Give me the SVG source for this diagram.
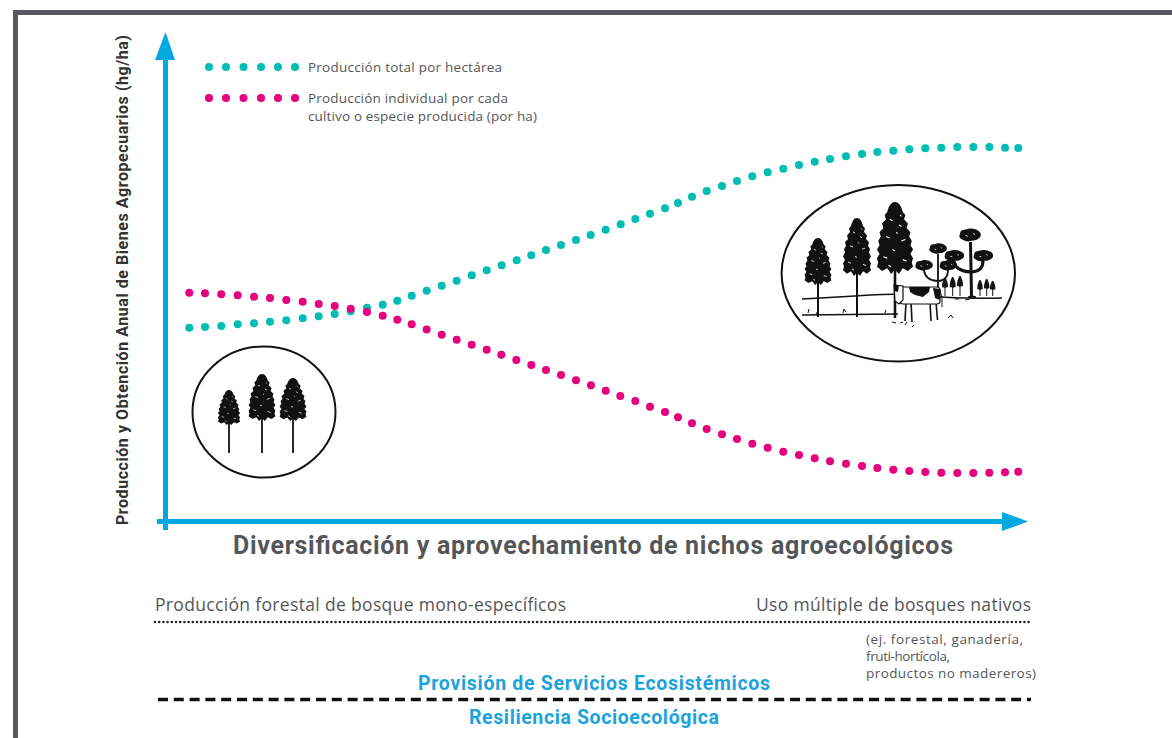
<svg xmlns="http://www.w3.org/2000/svg" xmlns:xlink="http://www.w3.org/1999/xlink" width="1172" height="738" viewBox="0 0 1172 738">
<style>
.t{fill:#555659;font-family:"Open Sans","Noto Sans","Liberation Sans",sans-serif}
.b{font-family:Roboto,"Open Sans","Liberation Sans",sans-serif;font-weight:bold}
.blue{fill:#1ba3dd}
.teal circle{fill:#00bdb3}
.mag circle{fill:#e5007e}
.ax{fill:#00a8e1}
.line{stroke:#111;fill:none}
</style>
<defs>
<g id="pine">
<path d="M0,0 C3,0 5,3 6,7 L8,9 L7,12 L10,15 L9,18 L12,21 L11,24 L13,27 L12,30 L14,33 L12,36 L14,39 L13,42 L14,45 L10,48 L6,46 L3,50 L0,47 L-3,50 L-6,46 L-10,48 L-14,45 L-13,42 L-14,39 L-12,36 L-14,33 L-12,30 L-13,27 L-11,24 L-12,21 L-9,18 L-10,15 L-7,12 L-8,9 L-6,7 C-5,3 -3,0 0,0 Z" fill="#111"/>
<path d="M-4,12 l2,1 M3,16 l2,1 M-7,24 l3,1 M5,27 l3,-1 M-2,33 l2,1 M-9,38 l3,1 M6,40 l3,1 M1,21 l1,1 M-5,44 l2,1 M4,9 l1,1" stroke="#fff" stroke-width="0.8"/>
</g>
<g id="tuft">
<path d="M-9,-3 C-9,-7 -4,-6 -2,-7 C1,-8 6,-7 8,-5 C11,-3 10,1 7,2 C5,4 2,3 0,4 C-3,5 -6,3 -8,2 C-10,1 -10,-1 -9,-3 Z" fill="#111"/>
<path d="M-4,-1 l2,0.5 M3,-3 l1.5,1" stroke="#fff" stroke-width="0.8"/>
</g>
</defs>

<rect id="frame" x="15.5" y="12.5" width="1180" height="760" fill="none" stroke="#58585f" stroke-width="5"/>

<g id="connectors">
<g id="y-axis">
<rect class="ax" x="163" y="58" width="5" height="472"/>
<polygon class="ax" points="155,60 175,60 165.5,32"/>
</g>
<g id="x-axis">
<rect class="ax" x="157" y="519" width="847" height="5"/>
<polygon class="ax" points="1002,512 1002,531 1028,521.5"/>
</g>
<line id="dotted-rule" x1="155" y1="622" x2="1031" y2="622" stroke="#222" stroke-width="2.6" stroke-linecap="round" stroke-dasharray="0 4.2"/>
<line id="dashed-rule" x1="158" y1="699.5" x2="1031" y2="699.5" stroke="#111" stroke-width="3.3" stroke-dasharray="10 5.8"/>
</g>

<g id="series-total" class="teal">
<circle cx="189.3" cy="327.7" r="4"/><circle cx="205" cy="327" r="4"/><circle cx="221.3" cy="326" r="4"/><circle cx="237.7" cy="324.3" r="4"/><circle cx="254" cy="323.3" r="4"/><circle cx="270" cy="321.7" r="4"/><circle cx="286.3" cy="320.3" r="4"/><circle cx="302.7" cy="318.3" r="4"/><circle cx="318.7" cy="316.3" r="4"/><circle cx="334.7" cy="314" r="4"/><circle cx="350.7" cy="311.3" r="4"/><circle cx="367" cy="307.7" r="4"/><circle cx="382.7" cy="304.7" r="4"/><circle cx="397.3" cy="300.7" r="4"/><circle cx="411.7" cy="295.7" r="4"/><circle cx="426.7" cy="290.7" r="4"/><circle cx="441.7" cy="285.7" r="4"/><circle cx="456.7" cy="280.7" r="4"/><circle cx="471.7" cy="275.3" r="4"/><circle cx="486.7" cy="270.3" r="4"/><circle cx="501.7" cy="265.3" r="4"/><circle cx="516.7" cy="260.3" r="4"/><circle cx="531.3" cy="255.3" r="4"/><circle cx="546" cy="250" r="4"/><circle cx="561" cy="245" r="4"/><circle cx="576" cy="240" r="4"/><circle cx="590.7" cy="235" r="4"/><circle cx="605.7" cy="229.7" r="4"/><circle cx="620.7" cy="224.3" r="4"/><circle cx="635.3" cy="219" r="4"/><circle cx="650" cy="213.7" r="4"/><circle cx="665" cy="208.3" r="4"/><circle cx="678" cy="203" r="4"/><circle cx="692" cy="196.7" r="4"/><circle cx="706.7" cy="191" r="4"/><circle cx="722" cy="186" r="4"/><circle cx="737" cy="181" r="4"/><circle cx="752.3" cy="176.3" r="4"/><circle cx="767.7" cy="172.3" r="4"/><circle cx="783.3" cy="168.7" r="4"/><circle cx="799" cy="165" r="4"/><circle cx="814.7" cy="161.7" r="4"/><circle cx="830" cy="159" r="4"/><circle cx="846" cy="156.3" r="4"/><circle cx="862" cy="154" r="4"/><circle cx="877.3" cy="152" r="4"/><circle cx="893.3" cy="150.7" r="4"/><circle cx="909.3" cy="149.3" r="4"/><circle cx="925.3" cy="148.3" r="4"/><circle cx="941.3" cy="147.7" r="4"/><circle cx="957.3" cy="147" r="4"/><circle cx="973.3" cy="147" r="4"/><circle cx="989.3" cy="147" r="4"/><circle cx="1005" cy="147.7" r="4"/><circle cx="1018.3" cy="148" r="4"/>
</g>

<g id="series-individual" class="mag">
<circle cx="189.3" cy="292.7" r="4"/><circle cx="205" cy="293.3" r="4"/><circle cx="221.3" cy="294.3" r="4"/><circle cx="237.7" cy="295.3" r="4"/><circle cx="254" cy="296.7" r="4"/><circle cx="270" cy="298" r="4"/><circle cx="286.3" cy="300" r="4"/><circle cx="302.7" cy="301.7" r="4"/><circle cx="318.7" cy="304" r="4"/><circle cx="334.7" cy="306" r="4"/><circle cx="350.7" cy="308.7" r="4"/><circle cx="367" cy="312" r="4"/><circle cx="382.7" cy="315.7" r="4"/><circle cx="397.3" cy="319.7" r="4"/><circle cx="411.7" cy="324.3" r="4"/><circle cx="426.7" cy="329.5" r="4"/><circle cx="441.7" cy="334.7" r="4"/><circle cx="456.7" cy="339.7" r="4"/><circle cx="471.7" cy="344.7" r="4"/><circle cx="486.7" cy="349.7" r="4"/><circle cx="501.3" cy="354.7" r="4"/><circle cx="516.3" cy="360" r="4"/><circle cx="531.3" cy="365" r="4"/><circle cx="546" cy="370" r="4"/><circle cx="561" cy="375" r="4"/><circle cx="576" cy="380.3" r="4"/><circle cx="591" cy="385.3" r="4"/><circle cx="605.7" cy="390.7" r="4"/><circle cx="620.3" cy="396" r="4"/><circle cx="635.3" cy="401" r="4"/><circle cx="650" cy="406.7" r="4"/><circle cx="665" cy="412" r="4"/><circle cx="678" cy="417.3" r="4"/><circle cx="692" cy="423.3" r="4"/><circle cx="706.7" cy="429" r="4"/><circle cx="722" cy="434.3" r="4"/><circle cx="737" cy="439" r="4"/><circle cx="752.3" cy="443.7" r="4"/><circle cx="767.7" cy="447.7" r="4"/><circle cx="783.3" cy="451.7" r="4"/><circle cx="799" cy="455" r="4"/><circle cx="814.7" cy="458.3" r="4"/><circle cx="830" cy="461.3" r="4"/><circle cx="846" cy="463.7" r="4"/><circle cx="862" cy="466" r="4"/><circle cx="877.3" cy="468" r="4"/><circle cx="893.3" cy="469.7" r="4"/><circle cx="909.3" cy="471" r="4"/><circle cx="925.3" cy="472" r="4"/><circle cx="941.3" cy="472.7" r="4"/><circle cx="957.3" cy="473" r="4"/><circle cx="973.3" cy="473" r="4"/><circle cx="989.3" cy="472.7" r="4"/><circle cx="1005" cy="472.3" r="4"/><circle cx="1018.3" cy="471.7" r="4"/>
</g>

<g id="legend">
<g class="teal"><circle cx="209" cy="67" r="4"/><circle cx="226" cy="67" r="4"/><circle cx="243.5" cy="67" r="4"/><circle cx="261" cy="67" r="4"/><circle cx="278" cy="67" r="4"/><circle cx="295" cy="67" r="4"/></g>
<g class="mag"><circle cx="209" cy="98" r="4"/><circle cx="226" cy="98" r="4"/><circle cx="243.5" cy="98" r="4"/><circle cx="261" cy="98" r="4"/><circle cx="278" cy="98" r="4"/><circle cx="295" cy="98" r="4"/></g>
<text class="t" x="308" y="72" font-size="13.5" textLength="194">Producción total por hectárea</text>
<text class="t" x="308" y="103" font-size="13.5" textLength="200">Producción individual por cada</text>
<text class="t" x="308" y="121" font-size="13.5" textLength="229">cultivo o especie producida (por ha)</text>
</g>

<g id="y-axis-label">
<text class="b" transform="translate(128,280) rotate(-90)" text-anchor="middle" font-size="16" fill="#333" textLength="490">Producción y Obtención Anual de Bienes Agropecuarios (hg/ha)</text>
</g>

<g id="x-axis-label">
<text class="b" x="593" y="554" text-anchor="middle" font-size="25" fill="#55565a" textLength="720">Diversificación y aprovechamiento de nichos agroecológicos</text>
</g>

<g id="mono-forest">
<ellipse cx="264" cy="412" rx="71.5" ry="65.5" fill="#fff" stroke="#111" stroke-width="2"/>
<g class="line" stroke-width="1.8">
<line x1="229" y1="418" x2="229" y2="453"/>
<line x1="262" y1="412" x2="262" y2="453"/>
<line x1="293" y1="412" x2="293" y2="453"/>
</g>
<use xlink:href="#pine" transform="translate(229,390) scale(0.79,0.7)"/>
<use xlink:href="#pine" transform="translate(262,374) scale(0.96,0.94)"/>
<use xlink:href="#pine" transform="translate(293,378) scale(0.96,0.86)"/>
</g>

<g id="native-forest">
<ellipse cx="898.3" cy="273.3" rx="116.7" ry="88.3" fill="#fff" stroke="#111" stroke-width="2"/>
<path class="line" stroke-width="1.4" d="M802,299 Q840,297 870,295 T930,296 T1002,298"/>
<path class="line" stroke-width="1.4" d="M802,315 L898,314"/>
<path class="line" stroke-width="1" d="M808,313 l1,-4 M816,314 l2,-3 M843,313 l1,-4 l2,3 M885,313 l1,-3 M892,322 l4,1 M900,323 l3,-1 M905,325 l2,-3 M948,318 l3,-3 l2,3 M912,327 l2,-2 M955,299 l4,0 M965,300 l5,-1"/>
<g class="line" stroke-width="2">
<line x1="818" y1="280" x2="818" y2="317"/>
<line x1="857" y1="270" x2="857" y2="317"/>
<line x1="895" y1="268" x2="895" y2="318" stroke-width="2.6"/>
</g>
<use xlink:href="#pine" transform="translate(818,238) scale(0.96,0.94)"/>
<use xlink:href="#pine" transform="translate(857,218) scale(1,1.16)"/>
<use xlink:href="#pine" transform="translate(895,202) scale(1.29,1.44)"/>
<g class="line" stroke-width="1.8">
<path d="M938,302 L938,254 M937,281 Q925,280 924,270 M939,281 Q948,280 948,270"/>
<path d="M971.5,296 L970.5,242 M971,272 Q955,271 954,261 M972,272 Q983,271 983,261" stroke-width="3"/>
</g>
<use xlink:href="#tuft" transform="translate(938,250) scale(0.9)"/>
<use xlink:href="#tuft" transform="translate(924,266.7) scale(0.9)"/>
<use xlink:href="#tuft" transform="translate(948.3,266.7) scale(0.9)"/>
<use xlink:href="#tuft" transform="translate(970,236.7) scale(1.1)"/>
<use xlink:href="#tuft" transform="translate(954.3,257.3)"/>
<use xlink:href="#tuft" transform="translate(983.3,257.3)"/>
<ellipse cx="972" cy="297" rx="4" ry="1.5" fill="#111"/>
<g class="line" stroke-width="1">
<line x1="945" y1="284" x2="945" y2="296"/><line x1="952.7" y1="282" x2="952.7" y2="296"/><line x1="960" y1="281" x2="960" y2="296"/>
<line x1="980" y1="284" x2="980" y2="296"/><line x1="986.7" y1="283" x2="986.7" y2="296"/><line x1="992.7" y1="285" x2="992.7" y2="296"/>
</g>
<use xlink:href="#pine" transform="translate(945,278) scale(0.22,0.2)"/>
<use xlink:href="#pine" transform="translate(952.7,277) scale(0.22,0.22)"/>
<use xlink:href="#pine" transform="translate(960,276) scale(0.22,0.22)"/>
<use xlink:href="#pine" transform="translate(980,280) scale(0.2,0.2)"/>
<use xlink:href="#pine" transform="translate(986.7,279) scale(0.2,0.2)"/>
<use xlink:href="#pine" transform="translate(992.7,281) scale(0.2,0.18)"/>
<g id="cow">
<g class="line" stroke-width="1.6">
<line x1="906" y1="302" x2="905" y2="321"/><line x1="911" y1="302" x2="912" y2="322"/>
<line x1="930" y1="302" x2="931" y2="321"/><line x1="936" y1="302" x2="937.5" y2="320"/>
<path d="M940,290 Q943,298 942,307" stroke-width="1"/>
</g>
<rect x="900" y="287" width="40" height="17" rx="3" fill="#fff" stroke="#111" stroke-width="1.2"/>
<path d="M909,287 L930,287 L929,292 L923,297 L915,295 L910,292 Z" fill="#111"/>
<path d="M933,288 L940,289 L940,300 L935,298 Z" fill="#111"/>
<path d="M894,285 L903,286 L903,300 L899,304 L895,301 Z" fill="#fff" stroke="#111" stroke-width="1.2"/>
<path d="M894,285 L899,285 L898,292 L894,291 Z" fill="#111"/>
</g>
</g>

<g id="bottom-labels">
<text class="t" x="155" y="611" font-size="17.5" textLength="411">Producción forestal de bosque mono-específicos</text>
<text class="t" x="756" y="611" font-size="17.5" textLength="275">Uso múltiple de bosques nativos</text>
<text class="t" x="866" y="644" font-size="13.5" textLength="157">(ej. forestal, ganadería,</text>
<text class="t" x="866" y="661" font-size="13.5" textLength="84">fruti-hortícola,</text>
<text class="t" x="866" y="678" font-size="13.5" textLength="170">productos no madereros)</text>
<text class="b blue" x="594" y="690" text-anchor="middle" font-size="19.5" textLength="352">Provisión de Servicios Ecosistémicos</text>
<text class="b blue" x="594" y="724" text-anchor="middle" font-size="19.5" textLength="250">Resiliencia Socioecológica</text>
</g>
</svg>
